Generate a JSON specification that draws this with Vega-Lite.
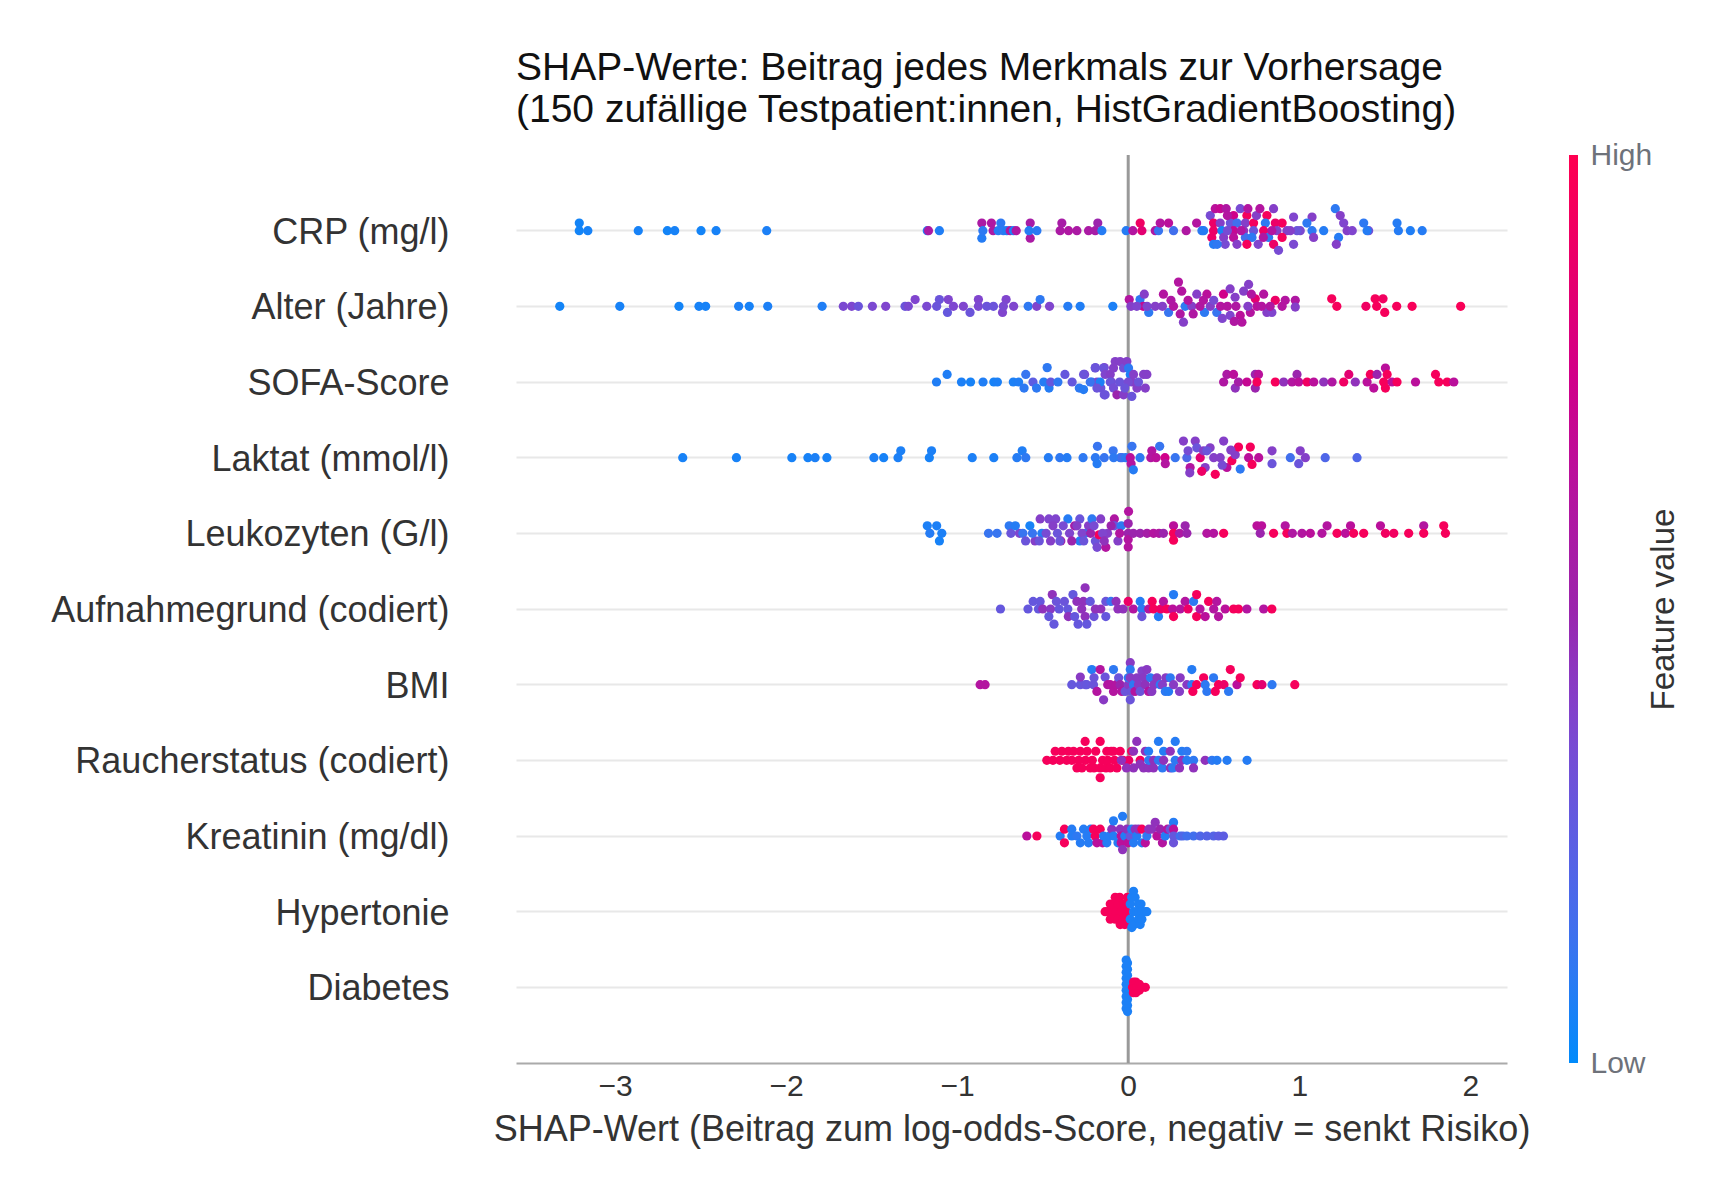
{
  "$schema": "https://vega.github.io/schema/vega-lite/v6.json",
  "autosize": {"type": "none"},
  "padding": {"left": 516, "top": 155, "right": 226, "bottom": 136},
  "width": 991,
  "height": 908,
  "background": "white",
  "config": {
    "font": "Liberation Sans",
    "view": {"stroke": null}
  },
  "title": {
    "text": ["SHAP-Werte: Beitrag jedes Merkmals zur Vorhersage", "(150 zufällige Testpatient:innen, HistGradientBoosting)"],
    "anchor": "start",
    "frame": "group",
    "font": "Liberation Sans",
    "fontSize": 39,
    "fontWeight": "normal",
    "color": "#111111",
    "lineHeight": 42,
    "offset": 10
  },
  "resolve": {"scale": {"y": "independent"}, "axis": {"y": "independent"}},
  "datasets": {
    "features": [
      {"k": 0, "name": "CRP (mg/l)"},
      {"k": 1, "name": "Alter (Jahre)"},
      {"k": 2, "name": "SOFA-Score"},
      {"k": 3, "name": "Laktat (mmol/l)"},
      {"k": 4, "name": "Leukozyten (G/l)"},
      {"k": 5, "name": "Aufnahmegrund (codiert)"},
      {"k": 6, "name": "BMI"},
      {"k": 7, "name": "Raucherstatus (codiert)"},
      {"k": 8, "name": "Kreatinin (mg/dl)"},
      {"k": 9, "name": "Hypertonie"},
      {"k": 10, "name": "Diabetes"}
    ],
    "colorbar": [
      {"fv": 0},
      {"fv": 1}
    ],
    "shap": [
      {"k":0,"s":-3.21,"o":0.1,"v":0.04},{"k":0,"s":-3.21,"o":0,"v":0.04},{"k":0,"s":-3.16,"o":0,"v":0.05},{"k":0,"s":-2.865,"o":0,"v":0.05},{"k":0,"s":-2.695,"o":0,"v":0.04},{"k":0,"s":-2.652,"o":0,"v":0.05},{"k":0,"s":-2.498,"o":0,"v":0.04},{"k":0,"s":-2.41,"o":0,"v":0.05},{"k":0,"s":-2.114,"o":0,"v":0.06},
      {"k":0,"s":-1.175,"o":0,"v":0.08},{"k":0,"s":-1.168,"o":0,"v":0.58},{"k":0,"s":-1.104,"o":0,"v":0.07},
      {"k":0,"s":-0.856,"o":0.1,"v":0.58},{"k":0,"s":-0.856,"o":-0.1,"v":0.08},{"k":0,"s":-0.85,"o":0,"v":0.1},{"k":0,"s":-0.8,"o":0.1,"v":0.6},{"k":0,"s":-0.79,"o":0,"v":0.58},{"k":0,"s":-0.745,"o":0.1,"v":0.1},{"k":0,"s":-0.76,"o":0,"v":0.08},{"k":0,"s":-0.73,"o":0,"v":0.1},{"k":0,"s":-0.71,"o":0,"v":0.07},{"k":0,"s":-0.69,"o":0,"v":0.6},{"k":0,"s":-0.671,"o":0,"v":0.06},{"k":0,"s":-0.655,"o":0,"v":0.6},{"k":0,"s":-0.573,"o":0.1,"v":0.56},{"k":0,"s":-0.573,"o":-0.1,"v":0.58},{"k":0,"s":-0.58,"o":0,"v":0.08},{"k":0,"s":-0.534,"o":0,"v":0.09},{"k":0,"s":-0.398,"o":0,"v":0.58},{"k":0,"s":-0.388,"o":0.1,"v":0.56},{"k":0,"s":-0.349,"o":0,"v":0.6},{"k":0,"s":-0.3,"o":0,"v":0.58},{"k":0,"s":-0.232,"o":0,"v":0.58},{"k":0,"s":-0.193,"o":0,"v":0.56},{"k":0,"s":-0.178,"o":0.1,"v":0.5},{"k":0,"s":-0.154,"o":0,"v":0.08},{"k":0,"s":-0.012,"o":0,"v":0.08},{"k":0,"s":0.027,"o":0,"v":0.62},{"k":0,"s":0.07,"o":0.1,"v":0.92},{"k":0,"s":0.08,"o":0,"v":0.85},{"k":0,"s":0.158,"o":0,"v":0.6},{"k":0,"s":0.177,"o":0,"v":0.12},{"k":0,"s":0.187,"o":0.1,"v":0.62},{"k":0,"s":0.236,"o":0.1,"v":0.65},{"k":0,"s":0.265,"o":0,"v":0.15},{"k":0,"s":0.339,"o":0,"v":0.6},{"k":0,"s":0.4,"o":0.1,"v":0.62},{"k":0,"s":0.431,"o":0,"v":0.1},
      {"k":0,"s":0.48,"o":0.2,"v":0.35},{"k":0,"s":0.509,"o":0.29,"v":0.65},{"k":0,"s":0.538,"o":0.29,"v":0.7},{"k":0,"s":0.573,"o":0.29,"v":0.6},{"k":0,"s":0.655,"o":0.29,"v":0.35},{"k":0,"s":0.616,"o":0.2,"v":0.75},{"k":0,"s":0.694,"o":0.2,"v":0.95},{"k":0,"s":0.811,"o":0.2,"v":0.95},{"k":0,"s":0.85,"o":0.29,"v":0.4},{"k":0,"s":0.9,"o":0.1,"v":0.95},{"k":0,"s":0.499,"o":0.1,"v":0.9},{"k":0,"s":0.538,"o":0.1,"v":0.4},{"k":0,"s":0.597,"o":0.1,"v":0.3},{"k":0,"s":0.636,"o":0.1,"v":0.15},{"k":0,"s":0.685,"o":0.1,"v":0.4},{"k":0,"s":0.733,"o":0.1,"v":0.95},{"k":0,"s":0.802,"o":0.1,"v":0.1},{"k":0,"s":0.86,"o":0.1,"v":0.9},{"k":0,"s":0.441,"o":0,"v":0.08},{"k":0,"s":0.499,"o":0,"v":0.9},{"k":0,"s":0.548,"o":0,"v":0.05},{"k":0,"s":0.616,"o":0,"v":0.7},{"k":0,"s":0.675,"o":0,"v":0.45},{"k":0,"s":0.733,"o":0,"v":0.3},{"k":0,"s":0.792,"o":0,"v":0.9},{"k":0,"s":0.87,"o":0,"v":0.4},{"k":0,"s":0.928,"o":0,"v":0.4},{"k":0,"s":0.489,"o":-0.09,"v":0.9},{"k":0,"s":0.558,"o":-0.09,"v":0.4},{"k":0,"s":0.616,"o":-0.09,"v":0.65},{"k":0,"s":0.685,"o":-0.09,"v":0.15},{"k":0,"s":0.724,"o":-0.09,"v":0.1},{"k":0,"s":0.821,"o":-0.09,"v":0.1},{"k":0,"s":0.9,"o":-0.09,"v":0.95},{"k":0,"s":0.499,"o":-0.18,"v":0.08},{"k":0,"s":0.567,"o":-0.18,"v":0.35},{"k":0,"s":0.636,"o":-0.18,"v":0.4},{"k":0,"s":0.694,"o":-0.18,"v":0.95},{"k":0,"s":0.85,"o":-0.18,"v":0.9},{"k":0,"s":0.879,"o":-0.26,"v":0.35},
      {"k":0,"s":0.58,"o":0.2,"v":0.62},{"k":0,"s":0.75,"o":0.2,"v":0.4},{"k":0,"s":0.77,"o":0.29,"v":0.62},{"k":0,"s":0.66,"o":0,"v":0.62},{"k":0,"s":0.76,"o":-0.18,"v":0.38},{"k":0,"s":0.58,"o":0,"v":0.35},{"k":0,"s":0.7,"o":0.29,"v":0.62},{"k":0,"s":0.52,"o":-0.18,"v":0.1},{"k":0,"s":0.79,"o":-0.09,"v":0.6},{"k":0,"s":0.84,"o":0,"v":0.62},
      {"k":0,"s":0.967,"o":0.18,"v":0.38},{"k":0,"s":1.075,"o":0.18,"v":0.4},{"k":0,"s":1.006,"o":0,"v":0.36},{"k":0,"s":1.045,"o":0.1,"v":0.1},{"k":0,"s":1.075,"o":0,"v":0.1},{"k":0,"s":1.084,"o":-0.09,"v":0.4},{"k":0,"s":0.967,"o":-0.18,"v":0.36},{"k":0,"s":0.987,"o":0,"v":0.3},{"k":0,"s":0.948,"o":0,"v":0.4},{"k":0,"s":1.143,"o":0,"v":0.08},{"k":0,"s":1.211,"o":0.29,"v":0.1},{"k":0,"s":1.24,"o":0.2,"v":0.4},{"k":0,"s":1.26,"o":0.1,"v":0.38},{"k":0,"s":1.28,"o":0,"v":0.4},{"k":0,"s":1.23,"o":-0.09,"v":0.08},{"k":0,"s":1.217,"o":-0.18,"v":0.4},{"k":0,"s":1.31,"o":0,"v":0.38},{"k":0,"s":1.377,"o":0.1,"v":0.1},{"k":0,"s":1.406,"o":0,"v":0.33},{"k":0,"s":1.397,"o":0,"v":0.08},{"k":0,"s":1.572,"o":0.1,"v":0.08},{"k":0,"s":1.58,"o":0,"v":0.08},{"k":0,"s":1.65,"o":0,"v":0.07},{"k":0,"s":1.719,"o":0,"v":0.08},

      {"k":1,"s":-3.324,"o":0,"v":0.04},{"k":1,"s":-2.973,"o":0,"v":0.05},{"k":1,"s":-2.627,"o":0,"v":0.04},{"k":1,"s":-2.51,"o":0,"v":0.05},{"k":1,"s":-2.471,"o":0,"v":0.05},{"k":1,"s":-2.278,"o":0,"v":0.06},{"k":1,"s":-2.216,"o":0,"v":0.05},{"k":1,"s":-2.108,"o":0,"v":0.06},{"k":1,"s":-1.79,"o":0,"v":0.07},{"k":1,"s":-1.666,"o":0,"v":0.36},{"k":1,"s":-1.617,"o":0,"v":0.37},{"k":1,"s":-1.578,"o":0,"v":0.3},{"k":1,"s":-1.496,"o":0,"v":0.36},{"k":1,"s":-1.418,"o":0,"v":0.38},{"k":1,"s":-1.305,"o":0,"v":0.3},{"k":1,"s":-1.286,"o":0,"v":0.36},{"k":1,"s":-1.246,"o":0.09,"v":0.38},{"k":1,"s":-1.178,"o":0,"v":0.36},{"k":1,"s":-1.12,"o":0,"v":0.3},{"k":1,"s":-1.104,"o":0.09,"v":0.3},{"k":1,"s":-1.052,"o":0.09,"v":0.38},{"k":1,"s":-1.057,"o":-0.08,"v":0.28},{"k":1,"s":-1.022,"o":0,"v":0.37},{"k":1,"s":-0.964,"o":0,"v":0.38},{"k":1,"s":-0.925,"o":-0.08,"v":0.3},{"k":1,"s":-0.876,"o":0.09,"v":0.38},{"k":1,"s":-0.876,"o":0,"v":0.36},{"k":1,"s":-0.827,"o":0,"v":0.3},{"k":1,"s":-0.788,"o":0,"v":0.3},{"k":1,"s":-0.714,"o":0.09,"v":0.38},{"k":1,"s":-0.735,"o":-0.08,"v":0.38},{"k":1,"s":-0.73,"o":0,"v":0.36},{"k":1,"s":-0.67,"o":0,"v":0.38},{"k":1,"s":-0.585,"o":0,"v":0.1},{"k":1,"s":-0.535,"o":0,"v":0.38},{"k":1,"s":-0.515,"o":0.09,"v":0.1},{"k":1,"s":-0.46,"o":0,"v":0.38},{"k":1,"s":-0.353,"o":0,"v":0.08},{"k":1,"s":-0.281,"o":0,"v":0.07},{"k":1,"s":-0.09,"o":0,"v":0.06},
      {"k":1,"s":0.006,"o":0.09,"v":0.62},{"k":1,"s":0.016,"o":0,"v":0.4},{"k":1,"s":0.069,"o":0.09,"v":0.1},{"k":1,"s":0.088,"o":0,"v":0.7},{"k":1,"s":0.094,"o":0.16,"v":0.4},{"k":1,"s":0.12,"o":-0.08,"v":0.1},{"k":1,"s":0.158,"o":0,"v":0.4},{"k":1,"s":0.206,"o":0.16,"v":0.62},{"k":1,"s":0.236,"o":-0.08,"v":0.12},{"k":1,"s":0.265,"o":0,"v":0.62},{"k":1,"s":0.294,"o":0.32,"v":0.62},{"k":1,"s":0.313,"o":0.2,"v":0.62},{"k":1,"s":0.304,"o":-0.1,"v":0.6},{"k":1,"s":0.323,"o":-0.21,"v":0.4},{"k":1,"s":0.333,"o":0,"v":0.1},{"k":1,"s":0.372,"o":0,"v":0.4},{"k":1,"s":0.401,"o":0.16,"v":0.4},{"k":1,"s":0.446,"o":-0.08,"v":0.1},{"k":1,"s":0.46,"o":0.16,"v":0.65},{"k":1,"s":0.518,"o":-0.08,"v":0.12},{"k":1,"s":0.557,"o":0.16,"v":0.75},{"k":1,"s":0.596,"o":0.23,"v":0.4},{"k":1,"s":0.625,"o":0.12,"v":0.4},{"k":1,"s":0.596,"o":-0.12,"v":0.38},{"k":1,"s":0.655,"o":-0.12,"v":0.65},{"k":1,"s":0.665,"o":-0.21,"v":0.62},{"k":1,"s":0.675,"o":0.2,"v":0.4},{"k":1,"s":0.704,"o":0.29,"v":0.4},{"k":1,"s":0.714,"o":-0.08,"v":0.62},{"k":1,"s":0.743,"o":0.1,"v":0.85},{"k":1,"s":0.753,"o":0,"v":0.65},{"k":1,"s":0.792,"o":0.16,"v":0.62},{"k":1,"s":0.811,"o":-0.08,"v":0.4},{"k":1,"s":0.84,"o":-0.08,"v":0.38},{"k":1,"s":0.86,"o":0.08,"v":0.9},{"k":1,"s":0.918,"o":0.08,"v":0.62},{"k":1,"s":0.977,"o":0.08,"v":0.6},{"k":1,"s":0.977,"o":-0.01,"v":0.4},
      {"k":1,"s":0.2,"o":0,"v":0.4},{"k":1,"s":0.25,"o":0.08,"v":0.6},{"k":1,"s":0.35,"o":0.08,"v":0.62},{"k":1,"s":0.42,"o":0,"v":0.6},{"k":1,"s":0.48,"o":0,"v":0.4},{"k":1,"s":0.5,"o":0.08,"v":0.35},{"k":1,"s":0.54,"o":0,"v":0.62},{"k":1,"s":0.58,"o":0,"v":0.62},{"k":1,"s":0.63,"o":0,"v":0.6},{"k":1,"s":0.7,"o":0,"v":0.4},{"k":1,"s":0.72,"o":0.16,"v":0.6},{"k":1,"s":0.78,"o":0,"v":0.62},{"k":1,"s":0.83,"o":0,"v":0.6},{"k":1,"s":0.55,"o":-0.16,"v":0.38},{"k":1,"s":0.44,"o":0.08,"v":0.62},{"k":1,"s":0.38,"o":-0.1,"v":0.6},{"k":1,"s":0.62,"o":-0.2,"v":0.6},{"k":1,"s":0.9,"o":0,"v":0.62},{"k":1,"s":0.11,"o":0,"v":0.38},{"k":1,"s":0.05,"o":0,"v":0.38},
      {"k":1,"s":1.19,"o":0.1,"v":0.95},{"k":1,"s":1.22,"o":0,"v":0.95},{"k":1,"s":1.39,"o":0,"v":0.92},{"k":1,"s":1.444,"o":0.1,"v":0.95},{"k":1,"s":1.453,"o":0,"v":0.95},{"k":1,"s":1.49,"o":0.1,"v":0.93},{"k":1,"s":1.5,"o":-0.08,"v":0.95},{"k":1,"s":1.57,"o":0,"v":0.95},{"k":1,"s":1.66,"o":0,"v":0.96},{"k":1,"s":1.944,"o":0,"v":0.97},

      {"k":2,"s":-1.121,"o":0,"v":0.07},{"k":2,"s":-1.059,"o":0.1,"v":0.07},{"k":2,"s":-0.975,"o":0,"v":0.06},{"k":2,"s":-0.922,"o":0,"v":0.05},{"k":2,"s":-0.849,"o":0,"v":0.07},{"k":2,"s":-0.786,"o":0,"v":0.05},{"k":2,"s":-0.765,"o":0,"v":0.06},{"k":2,"s":-0.672,"o":0,"v":0.06},{"k":2,"s":-0.641,"o":0,"v":0.07},{"k":2,"s":-0.599,"o":0.1,"v":0.12},{"k":2,"s":-0.609,"o":-0.08,"v":0.1},{"k":2,"s":-0.557,"o":0,"v":0.25},{"k":2,"s":-0.536,"o":-0.08,"v":0.1},{"k":2,"s":-0.474,"o":0.19,"v":0.1},{"k":2,"s":-0.494,"o":0,"v":0.08},{"k":2,"s":-0.463,"o":-0.08,"v":0.08},{"k":2,"s":-0.453,"o":0,"v":0.28},{"k":2,"s":-0.411,"o":0,"v":0.1},{"k":2,"s":-0.37,"o":0.1,"v":0.28},{"k":2,"s":-0.328,"o":0,"v":0.28},{"k":2,"s":-0.286,"o":-0.08,"v":0.1},{"k":2,"s":-0.255,"o":0.1,"v":0.36},{"k":2,"s":-0.213,"o":0,"v":0.12},{"k":2,"s":-0.182,"o":0,"v":0.36},{"k":2,"s":-0.192,"o":0.19,"v":0.3},{"k":2,"s":-0.14,"o":0.19,"v":0.38},{"k":2,"s":-0.16,"o":-0.08,"v":0.3},{"k":2,"s":-0.14,"o":-0.17,"v":0.3},{"k":2,"s":-0.098,"o":0,"v":0.36},
      {"k":2,"s":-0.261,"o":0.1,"v":0.3},{"k":2,"s":-0.222,"o":0,"v":0.12},{"k":2,"s":-0.193,"o":0.185,"v":0.3},{"k":2,"s":-0.164,"o":0,"v":0.06},{"k":2,"s":-0.144,"o":0.185,"v":0.3},{"k":2,"s":-0.135,"o":0.1,"v":0.38},{"k":2,"s":-0.105,"o":0.1,"v":0.4},{"k":2,"s":-0.105,"o":0,"v":0.3},{"k":2,"s":-0.086,"o":0.185,"v":0.4},{"k":2,"s":-0.076,"o":0.27,"v":0.4},{"k":2,"s":-0.047,"o":0.27,"v":0.4},{"k":2,"s":-0.027,"o":0.185,"v":0.33},{"k":2,"s":-0.008,"o":0.27,"v":0.4},{"k":2,"s":0.002,"o":0.185,"v":0.1},{"k":2,"s":0.012,"o":0.1,"v":0.06},{"k":2,"s":0.021,"o":0,"v":0.4},{"k":2,"s":0.031,"o":0.1,"v":0.4},{"k":2,"s":0.051,"o":-0.08,"v":0.4},{"k":2,"s":-0.086,"o":-0.08,"v":0.33},{"k":2,"s":-0.066,"o":-0.17,"v":0.5},{"k":2,"s":-0.027,"o":-0.17,"v":0.4},{"k":2,"s":0.021,"o":-0.19,"v":0.3},{"k":2,"s":-0.135,"o":-0.17,"v":0.3},{"k":2,"s":-0.183,"o":-0.08,"v":0.3},{"k":2,"s":0.09,"o":0.1,"v":0.4},{"k":2,"s":0.109,"o":0.1,"v":0.4},{"k":2,"s":0.1,"o":-0.08,"v":0.4},{"k":2,"s":-0.261,"o":-0.1,"v":0.08},{"k":2,"s":-0.05,"o":0,"v":0.3},{"k":2,"s":0,"o":0,"v":0.35},{"k":2,"s":-0.02,"o":-0.08,"v":0.3},{"k":2,"s":0.06,"o":0,"v":0.3},
      {"k":2,"s":0.558,"o":0,"v":0.6},{"k":2,"s":0.577,"o":0.1,"v":0.58},{"k":2,"s":0.616,"o":0.1,"v":0.65},{"k":2,"s":0.626,"o":-0.08,"v":0.45},{"k":2,"s":0.645,"o":0,"v":0.55},{"k":2,"s":0.694,"o":0,"v":0.7},{"k":2,"s":0.743,"o":0.1,"v":0.5},{"k":2,"s":0.762,"o":0.1,"v":0.65},{"k":2,"s":0.743,"o":-0.08,"v":0.5},{"k":2,"s":0.753,"o":0,"v":0.95},{"k":2,"s":0.86,"o":0,"v":0.95},{"k":2,"s":0.909,"o":0,"v":0.45},{"k":2,"s":0.958,"o":0,"v":0.62},{"k":2,"s":0.987,"o":0.1,"v":0.5},{"k":2,"s":0.997,"o":0,"v":0.65},{"k":2,"s":1.046,"o":0,"v":0.92},{"k":2,"s":1.085,"o":0,"v":0.65},{"k":2,"s":1.143,"o":0,"v":0.45},{"k":2,"s":1.192,"o":0,"v":0.6},{"k":2,"s":1.26,"o":0,"v":0.92},{"k":2,"s":1.29,"o":0.1,"v":0.85},{"k":2,"s":1.328,"o":0,"v":0.45},{"k":2,"s":1.397,"o":0,"v":0.65},{"k":2,"s":1.416,"o":0.1,"v":0.95},{"k":2,"s":1.436,"o":-0.08,"v":0.65},{"k":2,"s":1.455,"o":0.1,"v":0.5},{"k":2,"s":1.504,"o":0.185,"v":0.65},{"k":2,"s":1.514,"o":0.1,"v":0.95},{"k":2,"s":1.494,"o":0,"v":0.95},{"k":2,"s":1.504,"o":-0.08,"v":0.95},{"k":2,"s":1.543,"o":0,"v":0.65},{"k":2,"s":1.572,"o":0,"v":0.95},{"k":2,"s":1.68,"o":0,"v":0.65},{"k":2,"s":1.797,"o":0.1,"v":0.95},{"k":2,"s":1.816,"o":0,"v":0.95},{"k":2,"s":1.865,"o":0,"v":0.95},{"k":2,"s":1.904,"o":0,"v":0.65},

      {"k":3,"s":-2.605,"o":0,"v":0.05},{"k":3,"s":-2.291,"o":0,"v":0.05},{"k":3,"s":-1.967,"o":0,"v":0.05},{"k":3,"s":-1.873,"o":0,"v":0.05},{"k":3,"s":-1.831,"o":0,"v":0.06},{"k":3,"s":-1.762,"o":0,"v":0.05},{"k":3,"s":-1.487,"o":0,"v":0.06},{"k":3,"s":-1.43,"o":0,"v":0.05},{"k":3,"s":-1.346,"o":0,"v":0.06},{"k":3,"s":-1.33,"o":0.09,"v":0.06},{"k":3,"s":-1.163,"o":0,"v":0.05},{"k":3,"s":-1.15,"o":0.09,"v":0.06},{"k":3,"s":-0.912,"o":0,"v":0.06},{"k":3,"s":-0.786,"o":0,"v":0.06},{"k":3,"s":-0.651,"o":0,"v":0.08},{"k":3,"s":-0.62,"o":0.09,"v":0.07},{"k":3,"s":-0.599,"o":0,"v":0.1},{"k":3,"s":-0.467,"o":0,"v":0.08},{"k":3,"s":-0.4,"o":0,"v":0.1},{"k":3,"s":-0.358,"o":0,"v":0.08},{"k":3,"s":-0.264,"o":0,"v":0.1},{"k":3,"s":-0.18,"o":0.15,"v":0.12},{"k":3,"s":-0.192,"o":0,"v":0.1},{"k":3,"s":-0.182,"o":-0.08,"v":0.08},{"k":3,"s":-0.14,"o":0,"v":0.12},{"k":3,"s":-0.088,"o":0.09,"v":0.12},{"k":3,"s":-0.085,"o":0,"v":0.1},{"k":3,"s":-0.046,"o":0,"v":0.1},{"k":3,"s":-0.036,"o":0,"v":0.15},{"k":3,"s":-0.015,"o":0,"v":0.1},{"k":3,"s":0.022,"o":0.15,"v":0.12},{"k":3,"s":0.012,"o":0,"v":0.65},{"k":3,"s":0.017,"o":-0.08,"v":0.62},{"k":3,"s":0.03,"o":-0.16,"v":0.08},{"k":3,"s":0.069,"o":0,"v":0.1},{"k":3,"s":0.132,"o":0,"v":0.62},{"k":3,"s":0.138,"o":0.09,"v":0.62},{"k":3,"s":0.163,"o":0,"v":0.65},{"k":3,"s":0.184,"o":0.15,"v":0.12},{"k":3,"s":0.215,"o":0,"v":0.75},{"k":3,"s":0.217,"o":-0.08,"v":0.62},{"k":3,"s":0.275,"o":0,"v":0.12},
      {"k":3,"s":0.304,"o":-0.13,"v":null},{"k":3,"s":0.33,"o":0.13,"v":null},{"k":3,"s":0.3,"o":-0.05,"v":null},{"k":3,"s":0.36,"o":-0.24,"v":null},{"k":3,"s":0.392,"o":0.18,"v":null},{"k":3,"s":0.382,"o":-0.22,"v":null},{"k":3,"s":0.42,"o":0.2,"v":null},{"k":3,"s":0.47,"o":-0.05,"v":null},{"k":3,"s":0.52,"o":0.22,"v":null},{"k":3,"s":0.538,"o":0.3,"v":null},
      {"k":3,"s":0.323,"o":0.22,"v":0.4},{"k":3,"s":0.343,"o":0,"v":0.2},{"k":3,"s":0.362,"o":-0.13,"v":0.62},{"k":3,"s":0.392,"o":0.22,"v":0.4},{"k":3,"s":0.401,"o":0.13,"v":0.3},{"k":3,"s":0.36,"o":-0.2,"v":0.4},{"k":3,"s":0.421,"o":0,"v":0.85},{"k":3,"s":0.44,"o":0.09,"v":0.4},{"k":3,"s":0.45,"o":-0.13,"v":0.4},{"k":3,"s":0.479,"o":0.13,"v":0.4},{"k":3,"s":0.5,"o":0,"v":0.4},{"k":3,"s":0.509,"o":-0.22,"v":0.95},{"k":3,"s":0.558,"o":0.22,"v":0.4},{"k":3,"s":0.538,"o":0,"v":0.4},{"k":3,"s":0.577,"o":-0.13,"v":0.65},{"k":3,"s":0.606,"o":-0.04,"v":0.95},{"k":3,"s":0.626,"o":0.04,"v":0.4},{"k":3,"s":0.645,"o":0.14,"v":0.95},{"k":3,"s":0.655,"o":-0.15,"v":0.1},{"k":3,"s":0.714,"o":0.14,"v":0.95},{"k":3,"s":0.704,"o":0,"v":0.65},{"k":3,"s":0.724,"o":-0.09,"v":0.95},{"k":3,"s":0.763,"o":0,"v":0.65},{"k":3,"s":0.35,"o":0.09,"v":0.35},{"k":3,"s":0.46,"o":0.09,"v":0.3},{"k":3,"s":0.55,"o":-0.1,"v":0.35},{"k":3,"s":0.6,"o":0.1,"v":0.4},{"k":3,"s":0.43,"o":-0.18,"v":0.9},
      {"k":3,"s":0.841,"o":0.09,"v":0.4},{"k":3,"s":0.841,"o":-0.08,"v":0.3},{"k":3,"s":0.948,"o":0,"v":0.15},{"k":3,"s":1.006,"o":0.09,"v":0.4},{"k":3,"s":1.036,"o":0,"v":0.4},{"k":3,"s":0.997,"o":-0.08,"v":0.3},{"k":3,"s":1.152,"o":0,"v":0.2},{"k":3,"s":1.338,"o":0,"v":0.2},

      {"k":4,"s":-1.175,"o":0.1,"v":0.06},{"k":4,"s":-1.12,"o":0.1,"v":0.06},{"k":4,"s":-1.16,"o":0,"v":0.08},{"k":4,"s":-1.09,"o":0,"v":0.06},{"k":4,"s":-1.104,"o":-0.1,"v":0.05},{"k":4,"s":-0.817,"o":0,"v":0.12},{"k":4,"s":-0.767,"o":0,"v":0.12},{"k":4,"s":-0.696,"o":0.1,"v":0.1},{"k":4,"s":-0.686,"o":0,"v":0.3},{"k":4,"s":-0.636,"o":0,"v":0.38},{"k":4,"s":-0.616,"o":0,"v":0.12},{"k":4,"s":-0.575,"o":0.1,"v":0.05},{"k":4,"s":-0.545,"o":-0.1,"v":0.4},{"k":4,"s":-0.515,"o":0.19,"v":0.4},{"k":4,"s":-0.505,"o":0,"v":0.08},{"k":4,"s":-0.464,"o":0.19,"v":0.38},{"k":4,"s":-0.454,"o":-0.1,"v":0.4},{"k":4,"s":-0.424,"o":0.19,"v":0.38},{"k":4,"s":-0.414,"o":0,"v":0.3},{"k":4,"s":-0.394,"o":-0.1,"v":0.55},{"k":4,"s":-0.353,"o":0.19,"v":0.08},{"k":4,"s":-0.343,"o":0,"v":0.38},{"k":4,"s":-0.313,"o":0.1,"v":0.55},{"k":4,"s":-0.283,"o":0.19,"v":0.3},{"k":4,"s":-0.283,"o":-0.1,"v":0.08},{"k":4,"s":-0.252,"o":0,"v":0.1},{"k":4,"s":-0.232,"o":0.1,"v":0.4},{"k":4,"s":-0.212,"o":0.19,"v":0.1},{"k":4,"s":-0.192,"o":-0.1,"v":0.3},{"k":4,"s":-0.182,"o":-0.185,"v":0.35},{"k":4,"s":-0.171,"o":-0.02,"v":0.95},{"k":4,"s":-0.161,"o":0.19,"v":0.4},{"k":4,"s":-0.131,"o":-0.185,"v":0.62},{"k":4,"s":-0.121,"o":0,"v":0.4},{"k":4,"s":-0.081,"o":0.19,"v":0.6},{"k":4,"s":-0.081,"o":0.1,"v":0.3},{"k":4,"s":-0.06,"o":-0.1,"v":0.4},{"k":4,"s":-0.04,"o":0.1,"v":0.1},{"k":4,"s":-0.05,"o":0,"v":0.62},
      {"k":4,"s":-0.6,"o":-0.1,"v":0.3},{"k":4,"s":-0.56,"o":0,"v":0.12},{"k":4,"s":-0.48,"o":0,"v":0.35},{"k":4,"s":-0.44,"o":0.1,"v":0.4},{"k":4,"s":-0.38,"o":0.1,"v":0.35},{"k":4,"s":-0.33,"o":-0.1,"v":0.5},{"k":4,"s":-0.27,"o":0,"v":0.38},{"k":4,"s":-0.26,"o":-0.1,"v":0.3},{"k":4,"s":-0.22,"o":0,"v":0.5},{"k":4,"s":-0.2,"o":0.1,"v":0.35},{"k":4,"s":-0.15,"o":0,"v":0.38},{"k":4,"s":-0.1,"o":0.1,"v":0.5},{"k":4,"s":-0.3,"o":0.1,"v":0.4},{"k":4,"s":-0.4,"o":-0.1,"v":0.3},{"k":4,"s":-0.52,"o":-0.1,"v":0.3},{"k":4,"s":-0.66,"o":0.1,"v":0.08},{"k":4,"s":-0.14,"o":-0.1,"v":0.45},
      {"k":4,"s":0.002,"o":0.29,"v":0.62},{"k":4,"s":0,"o":0.13,"v":0.5},{"k":4,"s":0,"o":0,"v":0.5},{"k":4,"s":0,"o":-0.08,"v":0.62},{"k":4,"s":0,"o":-0.18,"v":0.62},{"k":4,"s":0.03,"o":0,"v":0.5},{"k":4,"s":0.07,"o":0,"v":0.5},{"k":4,"s":0.11,"o":0,"v":0.55},{"k":4,"s":0.148,"o":0,"v":0.62},{"k":4,"s":0.18,"o":0,"v":0.6},{"k":4,"s":0.206,"o":0,"v":0.5},{"k":4,"s":0.265,"o":0.1,"v":0.65},{"k":4,"s":0.265,"o":0,"v":0.95},{"k":4,"s":0.265,"o":-0.09,"v":0.95},{"k":4,"s":0.3,"o":0,"v":0.6},{"k":4,"s":0.333,"o":0.1,"v":0.5},{"k":4,"s":0.343,"o":0,"v":0.5},{"k":4,"s":0.46,"o":0,"v":0.62},{"k":4,"s":0.499,"o":0,"v":0.62},{"k":4,"s":0.558,"o":0,"v":0.95},{"k":4,"s":0.753,"o":0.1,"v":0.65},{"k":4,"s":0.78,"o":0.1,"v":0.65},{"k":4,"s":0.772,"o":0,"v":0.5},{"k":4,"s":0.85,"o":0,"v":0.95},{"k":4,"s":0.918,"o":0.1,"v":0.62},{"k":4,"s":0.928,"o":0,"v":0.95},{"k":4,"s":0.96,"o":0,"v":0.6},{"k":4,"s":1.016,"o":0,"v":0.62},{"k":4,"s":1.065,"o":0,"v":0.65},{"k":4,"s":1.133,"o":0,"v":0.62},{"k":4,"s":1.163,"o":0.1,"v":0.62},{"k":4,"s":1.221,"o":0,"v":0.95},{"k":4,"s":1.27,"o":0,"v":0.65},{"k":4,"s":1.3,"o":0.1,"v":0.65},{"k":4,"s":1.318,"o":0,"v":0.95},{"k":4,"s":1.377,"o":0,"v":0.95},{"k":4,"s":1.475,"o":0.1,"v":0.65},{"k":4,"s":1.504,"o":0,"v":0.93},{"k":4,"s":1.553,"o":0,"v":0.93},{"k":4,"s":1.64,"o":0,"v":0.95},{"k":4,"s":1.728,"o":0.1,"v":0.62},{"k":4,"s":1.728,"o":0,"v":0.95},{"k":4,"s":1.845,"o":0.1,"v":0.95},{"k":4,"s":1.855,"o":0,"v":0.95},

      {"k":5,"s":-0.747,"o":0,"v":0.28},{"k":5,"s":-0.586,"o":0,"v":0.28},{"k":5,"s":-0.556,"o":0.1,"v":0.28},{"k":5,"s":-0.515,"o":0.1,"v":0.28},{"k":5,"s":-0.525,"o":0,"v":0.28},{"k":5,"s":-0.5,"o":0,"v":0.45},{"k":5,"s":-0.444,"o":0.19,"v":0.45},{"k":5,"s":-0.454,"o":0,"v":0.42},{"k":5,"s":-0.464,"o":-0.1,"v":0.28},{"k":5,"s":-0.434,"o":-0.2,"v":0.28},{"k":5,"s":-0.42,"o":0.1,"v":0.3},{"k":5,"s":-0.404,"o":0,"v":0.28},{"k":5,"s":-0.373,"o":0.1,"v":0.3},{"k":5,"s":-0.353,"o":0,"v":0.28},{"k":5,"s":-0.35,"o":-0.1,"v":0.45},{"k":5,"s":-0.323,"o":0.19,"v":0.28},{"k":5,"s":-0.313,"o":-0.1,"v":0.28},{"k":5,"s":-0.3,"o":0.1,"v":0.45},{"k":5,"s":-0.293,"o":-0.2,"v":0.28},{"k":5,"s":-0.252,"o":0.28,"v":0.45},{"k":5,"s":-0.262,"o":0.1,"v":0.45},{"k":5,"s":-0.272,"o":0,"v":0.45},{"k":5,"s":-0.252,"o":-0.1,"v":0.45},{"k":5,"s":-0.242,"o":-0.2,"v":0.28},{"k":5,"s":-0.222,"o":0.1,"v":0.28},{"k":5,"s":-0.2,"o":-0.1,"v":0.3},{"k":5,"s":-0.192,"o":0,"v":0.45},{"k":5,"s":-0.16,"o":0,"v":0.45},{"k":5,"s":-0.131,"o":0.1,"v":0.3},{"k":5,"s":-0.131,"o":-0.1,"v":0.28},{"k":5,"s":-0.101,"o":0.1,"v":0.12},{"k":5,"s":-0.071,"o":0.1,"v":0.45},{"k":5,"s":-0.06,"o":0,"v":0.45},{"k":5,"s":-0.03,"o":0,"v":0.45},
      {"k":5,"s":0,"o":0.1,"v":0.9},{"k":5,"s":0.03,"o":0,"v":0.62},{"k":5,"s":0.07,"o":0.1,"v":0.08},{"k":5,"s":0.08,"o":0,"v":0.1},{"k":5,"s":0.08,"o":-0.1,"v":0.3},{"k":5,"s":0.12,"o":0,"v":0.62},{"k":5,"s":0.14,"o":0.1,"v":0.95},{"k":5,"s":0.148,"o":0,"v":0.95},{"k":5,"s":0.177,"o":-0.1,"v":0.08},{"k":5,"s":0.19,"o":0,"v":0.9},{"k":5,"s":0.206,"o":0.1,"v":0.62},{"k":5,"s":0.226,"o":0,"v":0.95},{"k":5,"s":0.26,"o":0,"v":0.65},{"k":5,"s":0.265,"o":0.19,"v":0.08},{"k":5,"s":0.265,"o":-0.1,"v":0.95},{"k":5,"s":0.304,"o":0,"v":0.62},{"k":5,"s":0.333,"o":0.1,"v":0.62},{"k":5,"s":0.35,"o":0,"v":0.9},{"k":5,"s":0.382,"o":0.1,"v":0.1},{"k":5,"s":0.4,"o":0.19,"v":0.95},{"k":5,"s":0.4,"o":-0.1,"v":0.95},{"k":5,"s":0.42,"o":0,"v":0.62},{"k":5,"s":0.45,"o":-0.1,"v":0.65},{"k":5,"s":0.47,"o":0.1,"v":0.95},{"k":5,"s":0.5,"o":0,"v":0.62},{"k":5,"s":0.518,"o":0.1,"v":0.62},{"k":5,"s":0.528,"o":-0.1,"v":0.62},{"k":5,"s":0.567,"o":0,"v":0.65},{"k":5,"s":0.616,"o":0,"v":0.95},{"k":5,"s":0.645,"o":0,"v":0.95},{"k":5,"s":0.694,"o":0,"v":0.62},{"k":5,"s":0.792,"o":0,"v":0.62},{"k":5,"s":0.84,"o":0,"v":0.95},

      {"k":6,"s":-0.866,"o":0,"v":0.62},{"k":6,"s":-0.837,"o":0,"v":0.62},{"k":6,"s":-0.33,"o":0,"v":0.28},{"k":6,"s":-0.28,"o":0,"v":0.28},{"k":6,"s":-0.28,"o":0.1,"v":0.42},{"k":6,"s":-0.25,"o":0,"v":0.3},{"k":6,"s":-0.242,"o":0,"v":0.28},{"k":6,"s":-0.213,"o":0.2,"v":0.08},{"k":6,"s":-0.203,"o":0,"v":0.3},{"k":6,"s":-0.2,"o":0.09,"v":0.3},{"k":6,"s":-0.183,"o":-0.09,"v":0.62},{"k":6,"s":-0.164,"o":0.2,"v":0.62},{"k":6,"s":-0.144,"o":-0.2,"v":0.42},{"k":6,"s":-0.135,"o":0.1,"v":0.3},{"k":6,"s":-0.12,"o":0,"v":0.6},{"k":6,"s":-0.105,"o":0,"v":0.62},{"k":6,"s":-0.086,"o":0.2,"v":0.1},{"k":6,"s":-0.086,"o":-0.09,"v":0.62},{"k":6,"s":-0.07,"o":0,"v":0.62},{"k":6,"s":-0.056,"o":0.09,"v":0.3},{"k":6,"s":-0.047,"o":0,"v":0.5},{"k":6,"s":-0.037,"o":-0.09,"v":0.62},{"k":6,"s":-0.018,"o":-0.09,"v":0.3},{"k":6,"s":0,"o":0,"v":0.42},{"k":6,"s":0,"o":0.09,"v":0.1},{"k":6,"s":0.012,"o":0.29,"v":0.42},{"k":6,"s":0.012,"o":0.2,"v":0.1},{"k":6,"s":0.012,"o":0.09,"v":0.42},{"k":6,"s":0.012,"o":-0.2,"v":0.3},{"k":6,"s":0.02,"o":-0.09,"v":0.3},{"k":6,"s":0.031,"o":0,"v":0.1},{"k":6,"s":0.04,"o":-0.09,"v":0.62},{"k":6,"s":0.051,"o":0.09,"v":0.42},{"k":6,"s":0.06,"o":0,"v":0.42},{"k":6,"s":0.07,"o":-0.09,"v":0.3},{"k":6,"s":0.08,"o":0.18,"v":0.4},{"k":6,"s":0.09,"o":0.09,"v":0.42},{"k":6,"s":0.1,"o":0,"v":0.45},{"k":6,"s":0.109,"o":0.2,"v":0.42},{"k":6,"s":0.119,"o":-0.09,"v":0.62},{"k":6,"s":0.13,"o":0.09,"v":0.1},{"k":6,"s":0.138,"o":-0.09,"v":0.42},{"k":6,"s":0.15,"o":0,"v":0.42},{"k":6,"s":0.168,"o":0.09,"v":0.42},{"k":6,"s":0.187,"o":0,"v":0.1},{"k":6,"s":0.2,"o":0,"v":0.4},{"k":6,"s":0.217,"o":-0.09,"v":0.1},{"k":6,"s":0.22,"o":0.09,"v":0.42},{"k":6,"s":0.236,"o":0.2,"v":null},{"k":6,"s":0.246,"o":0.09,"v":0.1},{"k":6,"s":0.236,"o":-0.09,"v":0.08},{"k":6,"s":0.265,"o":0,"v":0.42},{"k":6,"s":0.3,"o":-0.09,"v":0.4},{"k":6,"s":0.304,"o":0.09,"v":0.42},{"k":6,"s":0.343,"o":0,"v":0.42},{"k":6,"s":0.372,"o":0.2,"v":0.08},{"k":6,"s":0.372,"o":0,"v":0.1},{"k":6,"s":0.378,"o":-0.09,"v":0.95},{"k":6,"s":0.4,"o":0,"v":0.95},{"k":6,"s":0.431,"o":-0.09,"v":null},{"k":6,"s":0.441,"o":0.09,"v":0.95},{"k":6,"s":0.45,"o":0,"v":0.1},{"k":6,"s":0.46,"o":-0.09,"v":0.1},{"k":6,"s":0.499,"o":0.09,"v":0.1},{"k":6,"s":0.509,"o":-0.09,"v":0.95},{"k":6,"s":0.528,"o":0,"v":0.95},{"k":6,"s":0.56,"o":0,"v":0.9},{"k":6,"s":0.587,"o":-0.09,"v":0.1},{"k":6,"s":0.597,"o":0.2,"v":0.95},{"k":6,"s":0.636,"o":0,"v":0.65},{"k":6,"s":0.655,"o":0.09,"v":0.95},{"k":6,"s":0.753,"o":0,"v":0.95},{"k":6,"s":0.782,"o":0,"v":0.85},{"k":6,"s":0.841,"o":0,"v":0.1},{"k":6,"s":0.974,"o":0,"v":0.95},

      {"k":7,"s":-0.476,"o":0,"v":0.95},{"k":7,"s":-0.44,"o":0,"v":0.95},{"k":7,"s":-0.427,"o":0.12,"v":0.95},{"k":7,"s":-0.4,"o":0,"v":0.95},{"k":7,"s":-0.388,"o":0.12,"v":0.95},{"k":7,"s":-0.36,"o":0,"v":0.95},{"k":7,"s":-0.35,"o":0.12,"v":0.95},{"k":7,"s":-0.33,"o":0,"v":0.95},{"k":7,"s":-0.32,"o":0.12,"v":0.95},{"k":7,"s":-0.3,"o":-0.1,"v":0.95},{"k":7,"s":-0.29,"o":0,"v":0.95},{"k":7,"s":-0.28,"o":0.12,"v":0.95},{"k":7,"s":-0.271,"o":-0.1,"v":0.95},{"k":7,"s":-0.252,"o":0.25,"v":0.95},{"k":7,"s":-0.25,"o":0,"v":0.95},{"k":7,"s":-0.24,"o":0.12,"v":0.95},{"k":7,"s":-0.222,"o":-0.1,"v":0.95},{"k":7,"s":-0.21,"o":0,"v":0.95},{"k":7,"s":-0.2,"o":-0.1,"v":0.95},{"k":7,"s":-0.19,"o":0.12,"v":0.95},{"k":7,"s":-0.164,"o":0.25,"v":0.95},{"k":7,"s":-0.164,"o":-0.1,"v":0.95},{"k":7,"s":-0.164,"o":-0.23,"v":0.95},{"k":7,"s":-0.15,"o":0,"v":0.95},{"k":7,"s":-0.13,"o":-0.1,"v":0.95},{"k":7,"s":-0.125,"o":0.12,"v":0.95},{"k":7,"s":-0.12,"o":0,"v":0.95},{"k":7,"s":-0.105,"o":-0.1,"v":0.95},{"k":7,"s":-0.1,"o":0.12,"v":0.95},{"k":7,"s":-0.086,"o":0.12,"v":0.95},{"k":7,"s":-0.08,"o":0,"v":0.95},{"k":7,"s":-0.066,"o":-0.1,"v":0.95},{"k":7,"s":-0.047,"o":0.12,"v":0.95},{"k":7,"s":-0.03,"o":0,"v":0.95},{"k":7,"s":0.003,"o":0,"v":0.9},{"k":7,"s":0.02,"o":0.12,"v":0.95},{"k":7,"s":0.07,"o":0,"v":0.95},
      {"k":7,"s":-0.04,"o":0,"v":0.45},{"k":7,"s":-0.01,"o":-0.1,"v":0.45},{"k":7,"s":0.031,"o":0.12,"v":0.45},{"k":7,"s":0.031,"o":-0.1,"v":0.45},{"k":7,"s":0.05,"o":0.25,"v":0.45},{"k":7,"s":0.07,"o":-0.05,"v":0.45},{"k":7,"s":0.09,"o":-0.1,"v":0.45},{"k":7,"s":0.1,"o":0.12,"v":0.45},{"k":7,"s":0.119,"o":-0.1,"v":0.45},{"k":7,"s":0.119,"o":0.12,"v":0.08},{"k":7,"s":0.12,"o":0,"v":0.1},{"k":7,"s":0.148,"o":0,"v":0.45},{"k":7,"s":0.148,"o":-0.1,"v":0.45},{"k":7,"s":0.177,"o":0.25,"v":0.08},{"k":7,"s":0.177,"o":0,"v":0.1},{"k":7,"s":0.2,"o":-0.1,"v":0.1},{"k":7,"s":0.207,"o":0.12,"v":0.08},{"k":7,"s":0.207,"o":0,"v":0.45},{"k":7,"s":0.246,"o":0.12,"v":0.45},{"k":7,"s":0.246,"o":-0.1,"v":0.45},{"k":7,"s":0.26,"o":-0.1,"v":0.1},{"k":7,"s":0.275,"o":0,"v":0.1},{"k":7,"s":0.275,"o":0.25,"v":0.08},{"k":7,"s":0.3,"o":-0.1,"v":0.45},{"k":7,"s":0.314,"o":0,"v":0.45},{"k":7,"s":0.314,"o":0.12,"v":0.08},{"k":7,"s":0.343,"o":0,"v":0.08},{"k":7,"s":0.343,"o":0.12,"v":0.1},{"k":7,"s":0.382,"o":0,"v":0.1},{"k":7,"s":0.382,"o":-0.1,"v":0.45},{"k":7,"s":0.45,"o":0,"v":0.45},{"k":7,"s":0.49,"o":0,"v":0.1},{"k":7,"s":0.519,"o":0,"v":0.08},{"k":7,"s":0.578,"o":0,"v":0.08},{"k":7,"s":0.695,"o":0,"v":0.08},

      {"k":8,"s":-0.593,"o":0,"v":0.65},{"k":8,"s":-0.534,"o":0,"v":0.95},{"k":8,"s":-0.398,"o":0,"v":0.08},{"k":8,"s":-0.373,"o":0.09,"v":0.95},{"k":8,"s":-0.373,"o":-0.09,"v":0.95},{"k":8,"s":-0.33,"o":0.09,"v":0.08},{"k":8,"s":-0.33,"o":0,"v":0.08},{"k":8,"s":-0.3,"o":0,"v":0.1},{"k":8,"s":-0.28,"o":-0.09,"v":0.08},{"k":8,"s":-0.261,"o":0.09,"v":0.08},{"k":8,"s":-0.242,"o":0,"v":0.08},{"k":8,"s":-0.232,"o":-0.09,"v":0.08},{"k":8,"s":-0.22,"o":0.09,"v":0.08},{"k":8,"s":-0.203,"o":0.09,"v":0.95},{"k":8,"s":-0.193,"o":0,"v":0.95},{"k":8,"s":-0.183,"o":-0.09,"v":0.65},{"k":8,"s":-0.164,"o":0.09,"v":0.95},{"k":8,"s":-0.15,"o":-0.09,"v":0.65},{"k":8,"s":-0.144,"o":0,"v":0.08},{"k":8,"s":-0.125,"o":-0.09,"v":0.08},{"k":8,"s":-0.11,"o":0,"v":0.08},{"k":8,"s":-0.096,"o":0.09,"v":0.45},{"k":8,"s":-0.086,"o":0,"v":0.08},{"k":8,"s":-0.086,"o":0.2,"v":0.08},{"k":8,"s":-0.06,"o":-0.09,"v":0.08},{"k":8,"s":-0.047,"o":0.09,"v":0.45},{"k":8,"s":-0.041,"o":0,"v":0.65},{"k":8,"s":-0.041,"o":-0.09,"v":0.65},{"k":8,"s":-0.033,"o":0.26,"v":0.08},{"k":8,"s":-0.033,"o":-0.18,"v":0.45},{"k":8,"s":-0.02,"o":0,"v":0.08},{"k":8,"s":-0.008,"o":0.09,"v":0.45},{"k":8,"s":0,"o":-0.09,"v":0.65},{"k":8,"s":0.012,"o":0,"v":0.3},{"k":8,"s":0.02,"o":0.09,"v":0.08},{"k":8,"s":0.031,"o":-0.09,"v":0.08},{"k":8,"s":0.041,"o":0.09,"v":0.45},{"k":8,"s":0.05,"o":0,"v":0.08},{"k":8,"s":0.06,"o":0.09,"v":0.45},{"k":8,"s":0.08,"o":0.09,"v":0.95},{"k":8,"s":0.08,"o":-0.09,"v":0.08},{"k":8,"s":0.1,"o":-0.09,"v":0.65},{"k":8,"s":0.109,"o":0,"v":0.1},{"k":8,"s":0.12,"o":0.09,"v":0.45},{"k":8,"s":0.138,"o":0.09,"v":0.45},{"k":8,"s":0.158,"o":0.18,"v":0.45},{"k":8,"s":0.168,"o":0,"v":0.65},{"k":8,"s":0.187,"o":0.09,"v":0.5},{"k":8,"s":0.2,"o":-0.09,"v":0.62},{"k":8,"s":0.216,"o":0,"v":0.08},{"k":8,"s":0.23,"o":0.09,"v":0.62},{"k":8,"s":0.246,"o":0.09,"v":0.3},{"k":8,"s":0.265,"o":0.18,"v":0.08},{"k":8,"s":0.265,"o":0.09,"v":0.65},{"k":8,"s":0.265,"o":-0.09,"v":0.3},{"k":8,"s":0.265,"o":0,"v":0.28},{"k":8,"s":0.304,"o":0,"v":0.15},{"k":8,"s":0.32,"o":0,"v":0.2},{"k":8,"s":0.343,"o":0,"v":0.15},{"k":8,"s":0.382,"o":0,"v":0.15},{"k":8,"s":0.421,"o":0,"v":0.2},{"k":8,"s":0.46,"o":0,"v":0.22},{"k":8,"s":0.499,"o":0,"v":0.22},{"k":8,"s":0.528,"o":0,"v":0.25},{"k":8,"s":0.557,"o":0,"v":0.25},

      {"k":9,"s":-0.135,"o":0,"v":0.95},{"k":9,"s":-0.12,"o":0,"v":0.95},{"k":9,"s":-0.105,"o":0.1,"v":0.95},{"k":9,"s":-0.105,"o":-0.1,"v":0.95},{"k":9,"s":-0.09,"o":0,"v":0.95},{"k":9,"s":-0.09,"o":0.1,"v":0.95},{"k":9,"s":-0.076,"o":0.19,"v":0.95},{"k":9,"s":-0.076,"o":-0.1,"v":0.95},{"k":9,"s":-0.07,"o":0,"v":0.95},{"k":9,"s":-0.06,"o":0.1,"v":0.95},{"k":9,"s":-0.06,"o":-0.1,"v":0.95},{"k":9,"s":-0.05,"o":0.19,"v":0.95},{"k":9,"s":-0.047,"o":-0.17,"v":0.95},{"k":9,"s":-0.04,"o":0,"v":0.95},{"k":9,"s":-0.03,"o":-0.1,"v":0.95},{"k":9,"s":-0.027,"o":0.1,"v":0.95},{"k":9,"s":-0.02,"o":-0.17,"v":0.95},{"k":9,"s":-0.01,"o":0,"v":0.95},{"k":9,"s":-0.005,"o":0.19,"v":0.95},{"k":9,"s":0,"o":-0.1,"v":0.95},
      {"k":9,"s":0.012,"o":0.1,"v":0.06},{"k":9,"s":0.012,"o":-0.1,"v":0.06},{"k":9,"s":0.021,"o":-0.21,"v":0.06},{"k":9,"s":0.02,"o":0.19,"v":0.06},{"k":9,"s":0.031,"o":0.27,"v":0.06},{"k":9,"s":0.04,"o":0.19,"v":0.06},{"k":9,"s":0.031,"o":0,"v":0.06},{"k":9,"s":0.035,"o":-0.17,"v":0.06},{"k":9,"s":0.05,"o":0,"v":0.06},{"k":9,"s":0.06,"o":0.1,"v":0.06},{"k":9,"s":0.06,"o":-0.1,"v":0.06},{"k":9,"s":0.07,"o":-0.17,"v":0.06},{"k":9,"s":0.075,"o":0.1,"v":0.06},{"k":9,"s":0.08,"o":0,"v":0.06},{"k":9,"s":0.08,"o":-0.1,"v":0.06},{"k":9,"s":0.1,"o":0,"v":0.06},{"k":9,"s":0.109,"o":0,"v":0.06},

      {"k":10,"s":-0.012,"o":0.36,"v":0.06},{"k":10,"s":-0.004,"o":0.32,"v":0.06},{"k":10,"s":-0.012,"o":0.28,"v":0.06},{"k":10,"s":-0.004,"o":0.24,"v":0.06},{"k":10,"s":-0.012,"o":0.2,"v":0.06},{"k":10,"s":-0.004,"o":0.16,"v":0.06},{"k":10,"s":-0.012,"o":0.12,"v":0.06},{"k":10,"s":-0.004,"o":0.08,"v":0.06},{"k":10,"s":-0.012,"o":0.04,"v":0.06},{"k":10,"s":-0.004,"o":0,"v":0.06},{"k":10,"s":-0.012,"o":-0.04,"v":0.06},{"k":10,"s":-0.004,"o":-0.08,"v":0.06},{"k":10,"s":-0.012,"o":-0.12,"v":0.06},{"k":10,"s":-0.004,"o":-0.16,"v":0.06},{"k":10,"s":-0.012,"o":-0.2,"v":0.06},{"k":10,"s":-0.004,"o":-0.24,"v":0.06},{"k":10,"s":-0.012,"o":-0.28,"v":0.06},{"k":10,"s":-0.004,"o":-0.32,"v":0.06},
      {"k":10,"s":0.025,"o":0,"v":0.95},{"k":10,"s":0.031,"o":0.07,"v":0.95},{"k":10,"s":0.03,"o":-0.07,"v":0.95},{"k":10,"s":0.045,"o":0.07,"v":0.95},{"k":10,"s":0.045,"o":-0.07,"v":0.95},{"k":10,"s":0.05,"o":0,"v":0.95},{"k":10,"s":0.065,"o":0.04,"v":0.95},{"k":10,"s":0.065,"o":-0.04,"v":0.95},{"k":10,"s":0.08,"o":0,"v":0.95},{"k":10,"s":0.1,"o":0,"v":0.95}
    ]
  },
  "layer": [
    {
      "data": {"values": [{"zero": 0}]},
      "mark": {"type": "rule", "color": "#999999", "strokeWidth": 3},
      "encoding": {
        "x": {"field": "zero", "type": "quantitative"}
      }
    },
    {
      "data": {"name": "shap"},
      "transform": [
        {"lookup": "k", "from": {"data": {"name": "features"}, "key": "k", "fields": ["name"]}}
      ],
      "mark": {"type": "circle", "size": 85, "opacity": 1, "strokeWidth": 0},
      "encoding": {
        "x": {
          "field": "s",
          "type": "quantitative",
          "scale": {"domain": [-3.58, 2.215], "nice": false, "zero": false},
          "axis": {
            "title": "SHAP-Wert (Beitrag zum log-odds-Score, negativ = senkt Risiko)",
            "values": [-3, -2, -1, 0, 1, 2],
            "format": "d",
            "grid": false,
            "ticks": false,
            "domainColor": "#aaaaaa",
            "domainWidth": 2,
            "labelFontSize": 30,
            "labelColor": "#333333",
            "labelPadding": 8,
            "titleFontSize": 36,
            "titleFontWeight": "normal",
            "titleColor": "#333333",
            "titlePadding": 11
          }
        },
        "y": {
          "field": "name",
          "type": "nominal",
          "scale": {
            "domain": ["CRP (mg/l)", "Alter (Jahre)", "SOFA-Score", "Laktat (mmol/l)", "Leukozyten (G/l)", "Aufnahmegrund (codiert)", "BMI", "Raucherstatus (codiert)", "Kreatinin (mg/dl)", "Hypertonie", "Diabetes"],
            "paddingInner": 0,
            "paddingOuter": 0.5
          },
          "axis": {
            "orient": "left",
            "title": null,
            "domain": false,
            "ticks": false,
            "grid": true,
            "gridColor": "#e8e8e8",
            "gridWidth": 2,
            "bandPosition": 0.5,
            "labelFontSize": 36,
            "labelColor": "#333333",
            "labelPadding": 67,
            "labelOffset": 2,
            "labelLimit": 1000
          }
        },
        "yOffset": {
          "field": "o",
          "type": "quantitative",
          "scale": {"domain": [-0.5, 0.5], "reverse": true}
        },
        "color": {
          "condition": {"test": "datum.v === null", "value": "#777777"},
          "field": "v",
          "type": "quantitative",
          "scale": {
            "domain": [0, 0.125, 0.25, 0.375, 0.5, 0.625, 0.75, 0.875, 1],
            "range": ["#008bfb", "#3a74f0", "#5d5de2", "#7f46cf", "#9b24ad", "#b4149f", "#d0008a", "#e8006b", "#ff0051"],
            "interpolate": "rgb"
          },
          "legend": {
            "title": null,
            "orient": "none",
            "legendX": 1053,
            "legendY": 0,
            "direction": "vertical",
            "padding": 0,
            "gradientLength": 908,
            "gradientThickness": 9,
            "gradientStrokeWidth": 0,
            "values": [0, 1],
            "labelExpr": "''"
          }
        }
      }
    },
    {
      "data": {"name": "colorbar"},
      "mark": {"type": "point", "opacity": 0},
      "encoding": {
        "y": {
          "field": "fv",
          "type": "quantitative",
          "scale": {"domain": [0, 1], "nice": false, "zero": false},
          "axis": {
            "orient": "right",
            "values": [0, 1],
            "labelExpr": "datum.value === 0 ? 'Low' : 'High'",
            "labelFlush": false,
            "labelOverlap": false,
            "labelBaseline": "middle",
            "labelAlign": "left",
            "labelPadding": 83,
            "labelFontSize": 30,
            "labelColor": "#6e727a",
            "ticks": false,
            "domain": false,
            "grid": false,
            "title": "Feature value",
            "titleAngle": 270,
            "titleX": 156,
            "titleY": 454,
            "titleAlign": "center",
            "titleBaseline": "middle",
            "titleFontSize": 33,
            "titleFontWeight": "normal",
            "titleColor": "#333333"
          }
        }
      }
    }
  ]
}
